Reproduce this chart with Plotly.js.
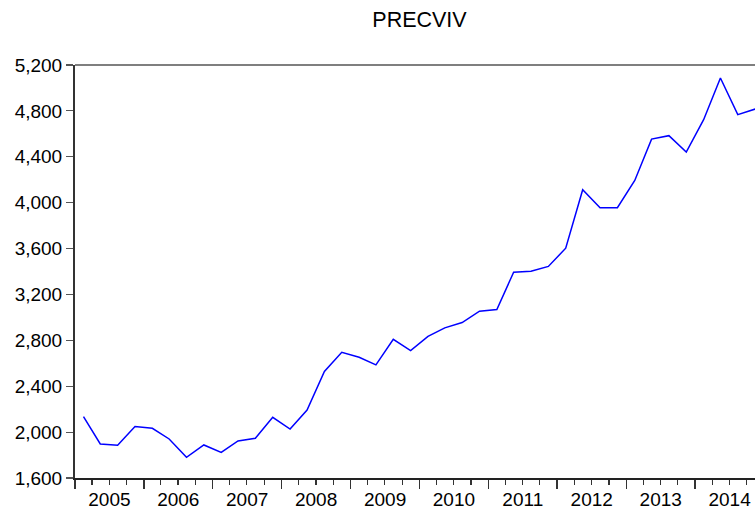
<!DOCTYPE html>
<html>
<head>
<meta charset="utf-8">
<script src="https://cdn.plot.ly/plotly-3.0.1.min.js"></script>
<style>
html, body { margin: 0; padding: 0; overflow: hidden; background: #fff; }
#chart { width: 775px; height: 511px; }
</style>
</head>
<body>
<div id="chart"></div>
<script>
var quarters = [
  "2005Q1","2005Q2","2005Q3","2005Q4",
  "2006Q1","2006Q2","2006Q3","2006Q4",
  "2007Q1","2007Q2","2007Q3","2007Q4",
  "2008Q1","2008Q2","2008Q3","2008Q4",
  "2009Q1","2009Q2","2009Q3","2009Q4",
  "2010Q1","2010Q2","2010Q3","2010Q4",
  "2011Q1","2011Q2","2011Q3","2011Q4",
  "2012Q1","2012Q2","2012Q3","2012Q4",
  "2013Q1","2013Q2","2013Q3","2013Q4",
  "2014Q1","2014Q2","2014Q3","2014Q4"
];
var precviv = [
  2135, 1897, 1885, 2048,
  2033, 1940, 1780, 1888,
  1823, 1923, 1946, 2129,
  2027, 2193, 2528, 2696,
  2652, 2586, 2809, 2711,
  2835, 2909, 2955, 3054,
  3068, 3394, 3403, 3444,
  3603, 4113, 3956, 3956,
  4194, 4554, 4584, 4441,
  4723, 5087, 4767, 4816
];
var yTicks = [1600, 2000, 2400, 2800, 3200, 3600, 4000, 4400, 4800, 5200];
var seriesTitle = "PRECVIV";

function quarterMid(label) {
  var yr = label.slice(0, 4);
  var q = parseInt(label.slice(5), 10);
  var m = (q - 1) * 3 + 2;
  return yr + "-" + (m < 10 ? "0" + m : m) + "-15";
}
var xDates = quarters.map(quarterMid);

var trace = {
  x: xDates,
  y: precviv,
  type: "scatter",
  mode: "lines",
  line: { color: "#0000ff", width: 1.5 },
  hoverinfo: "skip"
};

var font = "Arial, 'Liberation Sans', sans-serif";
var layout = {
  width: 775,
  height: 511,
  margin: { l: 75, r: 11, t: 65, b: 33 },
  paper_bgcolor: "#ffffff",
  plot_bgcolor: "#ffffff",
  showlegend: false,
  font: { family: font, color: "#000", size: 19 },
  title: {
    text: seriesTitle,
    font: { family: font, size: 21.5, color: "#000" },
    x: 0.5, xref: "paper", xanchor: "center",
    y: 1 - 19.5 / 511, yref: "container", yanchor: "middle"
  },
  xaxis: {
    type: "date",
    range: ["2005-01-01", "2015-01-01"],
    tick0: "2005-01-01",
    dtick: "M12",
    tickformat: "%Y",
    ticklabelmode: "period",
    ticklabelstandoff: -6,
    ticks: "outside",
    ticklen: 9,
    tickwidth: 1.5,
    tickcolor: "#333",
    minor: { dtick: "M3", ticks: "outside", ticklen: 5, tickwidth: 1.2, tickcolor: "#333", showgrid: false },
    showgrid: false,
    zeroline: false,
    showline: true,
    linecolor: "#222",
    linewidth: 2,
    tickfont: { family: font, size: 19, color: "#000" }
  },
  yaxis: {
    range: [1600, 5200],
    tickvals: yTicks,
    tickformat: ",d",
    ticks: "outside",
    ticklen: 7,
    tickwidth: 1.2,
    tickcolor: "#555",
    showgrid: false,
    zeroline: false,
    showline: true,
    linecolor: "#333",
    linewidth: 2,
    tickfont: { family: font, size: 19, color: "#000" }
  },
  shapes: [{
    type: "line", xref: "paper", yref: "paper",
    x0: 0, x1: 1, y0: 1, y1: 1,
    line: { color: "#000", width: 1.2 }
  }]
};

Plotly.newPlot("chart", [trace], layout, { staticPlot: true, displayModeBar: false });
</script>
</body>
</html>
